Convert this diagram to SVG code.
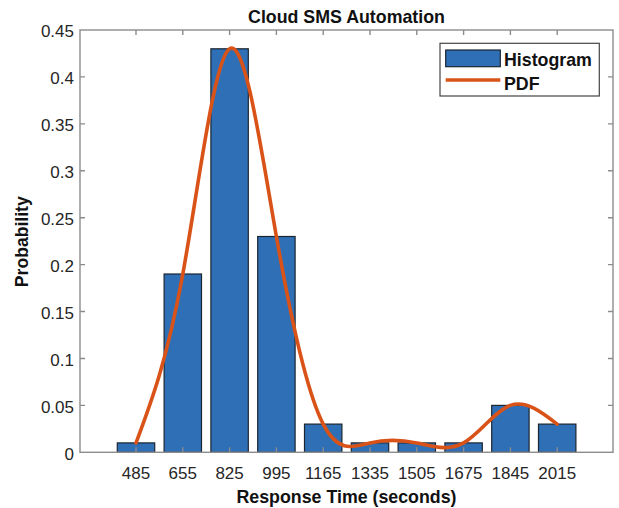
<svg xmlns="http://www.w3.org/2000/svg" width="619" height="508" viewBox="0 0 619 508">
<style>
.tk{font-family:"Liberation Sans",Arial,sans-serif;font-size:17px;fill:#262626}
.yl{text-anchor:end}
.xl{text-anchor:middle}
.bd{font-family:"Liberation Sans",Arial,sans-serif;font-weight:bold;fill:#111}
.bar{fill:#2f6fb6;stroke:#1b2530;stroke-width:1.2}
.ax{stroke:#8c8c8c;stroke-width:1.4;fill:none}
.pdf{fill:none;stroke:#d95319;stroke-width:3.6;stroke-linecap:round;stroke-linejoin:round}
</style>
<rect width="619" height="508" fill="#fff"/>
<g id="bars">
<rect class="bar" x="117.3" y="442.9" width="37.4" height="9.4"/>
<rect class="bar" x="164.1" y="274.0" width="37.4" height="178.3"/>
<rect class="bar" x="210.9" y="48.8" width="37.4" height="403.5"/>
<rect class="bar" x="257.7" y="236.5" width="37.4" height="215.8"/>
<rect class="bar" x="304.5" y="424.1" width="37.4" height="28.2"/>
<rect class="bar" x="351.3" y="442.9" width="37.4" height="9.4"/>
<rect class="bar" x="398.1" y="442.9" width="37.4" height="9.4"/>
<rect class="bar" x="444.9" y="442.9" width="37.4" height="9.4"/>
<rect class="bar" x="491.7" y="405.4" width="37.4" height="46.9"/>
<rect class="bar" x="538.5" y="424.1" width="37.4" height="28.2"/>
</g>
<g id="axes">
<rect class="ax" x="80" y="30" width="533" height="422.3"/>
<path class="ax" d="M136 452.3v-5M182.8 452.3v-5M229.6 452.3v-5M276.4 452.3v-5M323.2 452.3v-5M370 452.3v-5M416.8 452.3v-5M463.6 452.3v-5M510.4 452.3v-5M557.2 452.3v-5
M136 30v5M182.8 30v5M229.6 30v5M276.4 30v5M323.2 30v5M370 30v5M416.8 30v5M463.6 30v5M510.4 30v5M557.2 30v5
M80 405.4h5M80 358.5h5M80 311.5h5M80 264.6h5M80 217.7h5M80 170.8h5M80 123.9h5M80 76.9h5
M613 405.4h-5M613 358.5h-5M613 311.5h-5M613 264.6h-5M613 217.7h-5M613 170.8h-5M613 123.9h-5M613 76.9h-5"/>
</g>
<g id="connectors">
<path class="pdf" d="M136 442.92C151.6 401.25 167.2 359.57 182.8 274C198.4 188.43 214 58.98 229.6 48.79C245.2 38.6 260.8 147.66 276.4 236.47C292 325.28 307.6 393.82 323.2 424.15C338.8 454.48 354.4 446.59 370 442.92C385.6 439.25 401.2 439.81 416.8 442.92C432.4 446.03 448 451.7 463.6 442.92C479.2 434.14 494.8 410.92 510.4 405.38C526 399.84 541.6 412 557.2 424.15"/>
</g>
<g id="yticks" class="tk yl">
<text x="74" y="459.7">0</text>
<text x="74" y="412.8">0.05</text>
<text x="74" y="365.9">0.1</text>
<text x="74" y="318.9">0.15</text>
<text x="74" y="272">0.2</text>
<text x="74" y="225.1">0.25</text>
<text x="74" y="178.2">0.3</text>
<text x="74" y="131.3">0.35</text>
<text x="74" y="84.3">0.4</text>
<text x="74" y="37.4">0.45</text>
</g>
<g id="xticks" class="tk xl">
<text x="136" y="479.3">485</text>
<text x="182.8" y="479.3">655</text>
<text x="229.6" y="479.3">825</text>
<text x="276.4" y="479.3">995</text>
<text x="323.2" y="479.3">1165</text>
<text x="370" y="479.3">1335</text>
<text x="416.8" y="479.3">1505</text>
<text x="463.6" y="479.3">1675</text>
<text x="510.4" y="479.3">1845</text>
<text x="557.2" y="479.3">2015</text>
</g>
<g id="title"><text class="bd" x="346.5" y="22.5" font-size="17.8" text-anchor="middle">Cloud SMS Automation</text></g>
<g id="xlabel"><text class="bd" x="346.5" y="502.5" font-size="17.8" text-anchor="middle">Response Time (seconds)</text></g>
<g id="ylabel"><text class="bd" transform="translate(28.3 241.7) rotate(-90)" font-size="17.6" text-anchor="middle">Probability</text></g>
<g id="legend">
<rect x="440" y="43.3" width="159.3" height="52.7" fill="#fff" stroke="#444" stroke-width="1.2"/>
<rect class="bar" x="445.7" y="50" width="54.6" height="16.7"/>
<line x1="445.7" y1="80" x2="500.3" y2="80" stroke="#d95319" stroke-width="3.6"/>
<text class="bd" x="504" y="65.7" font-size="17.8">Histogram</text>
<text class="bd" x="504" y="90" font-size="17.8">PDF</text>
</g>
</svg>
